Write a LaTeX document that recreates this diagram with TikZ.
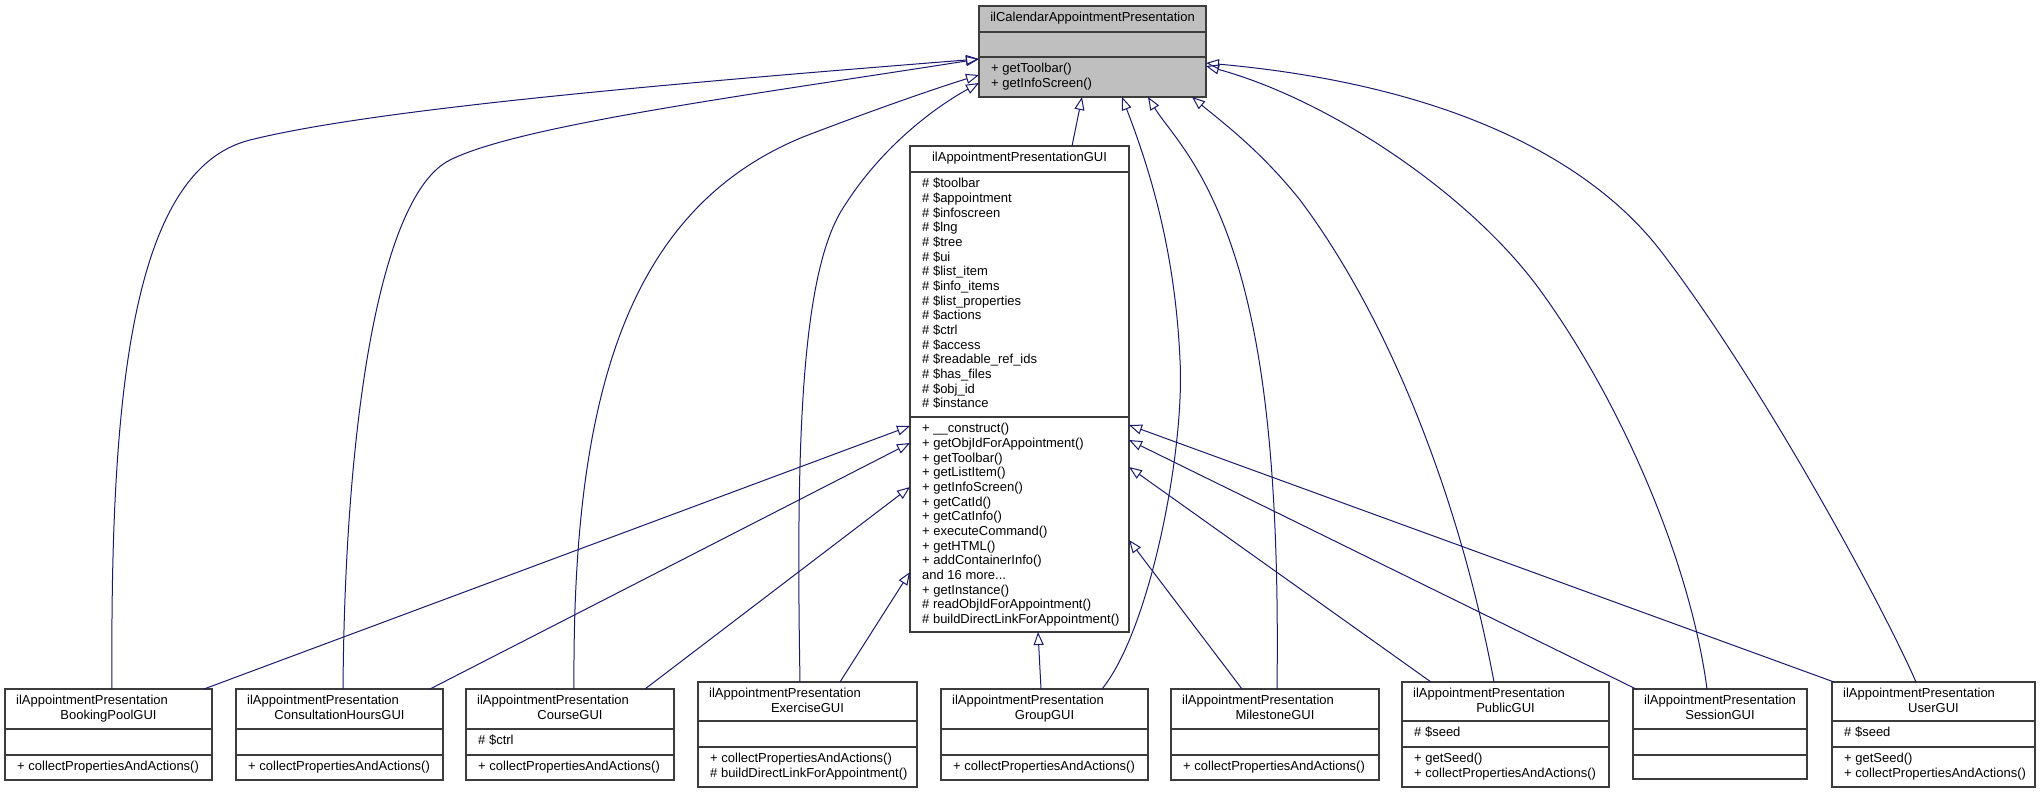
\documentclass[tikz,border=0pt]{standalone}
\usepackage{fontspec}
\setmainfont{Liberation Sans}
\usetikzlibrary{arrows.meta}
\definecolor{edgec}{RGB}{25,25,112}
\definecolor{boxc}{RGB}{60,60,60}
\definecolor{headc}{RGB}{191,191,191}
\tikzset{
  cls/.style={draw=boxc, line width=1.2pt, inner sep=0pt, outer sep=0pt},
  sepl/.style={draw=boxc, line width=1.2pt},
  txt/.style={font=\fontsize{13pt}{14.67pt}\selectfont, inner sep=0pt, text=black},
  inh/.style={draw=edgec, line width=1pt, -{Triangle[open, length=13pt, width=10pt]}}
}
\newcommand{\mydots}{...}
\newcommand{\mkbox}[8]{%
  \node[cls, fill=#8, minimum width={(#3-#2)*1pt}, minimum height={(#7-#4)*1pt}] (#1) at ({(#2+#3)/2},{(#4+#7)/2}) {};
  \draw[sepl] (#1.west |- 0,#5) -- (#1.east |- 0,#5);
  \draw[sepl] (#1.west |- 0,#6) -- (#1.east |- 0,#6);}
\newcommand{\txtl}[4]{\node[txt, anchor=base west] (#1) at ({#2},{#3}) {#4};}
\newcommand{\txtc}[4]{\node[txt, anchor=base] (#1) at ({#2},{#3}) {#4};}
\newcommand{\subbox}[9]{%
  \mkbox{#1}{#2}{#3}{#4}{#5}{#6}{#7}{white}
  \txtl{#1ta}{#2+11}{#4+15.8}{#8}
  \txtc{#1tb}{(#2+#3)/2}{#4+30.5}{#9}}
\begin{document}
\begin{tikzpicture}[x=1pt, y=-1pt]
\useasboundingbox (0,0) rectangle (2044,793);
\fill[white] (0,0) rectangle (2044,793);

% ---- base class
\mkbox{top}{979}{1206}{6}{32}{57}{97}{headc}
\txtc{topT}{1092.5}{21.8}{ilCalendarAppointmentPresentation}
\txtl{topMa}{991}{72.8}{+ getToolbar()}
\txtl{topMb}{991}{87.5}{+ getInfoScreen()}

% ---- middle class
\mkbox{mid}{910}{1129}{146}{172}{417}{632}{white}
\txtc{midT}{1019.5}{161.8}{ilAppointmentPresentationGUI}
\foreach \s [count=\i from 0] in {\# \$toolbar, \# \$appointment, \# \$infoscreen, \# \$lng, \# \$tree, \# \$ui, \# \$list\_item, \# \$info\_items, \# \$list\_properties, \# \$actions, \# \$ctrl, \# \$access, \# \$readable\_ref\_ids, \# \$has\_files, \# \$obj\_id, \# \$instance}
  \node[txt, anchor=base west] (ma\i) at (922, {187.8+\i*14.67}) {\s};
\foreach \s [count=\i from 0] in {+ \_\_construct(), + getObjIdForAppointment(), + getToolbar(), + getListItem(), + getInfoScreen(), + getCatId(), + getCatInfo(), + executeCommand(), + getHTML(), + addContainerInfo(), and 16 more\mydots, + getInstance(), \# readObjIdForAppointment(), \# buildDirectLinkForAppointment()}
  \node[txt, anchor=base west] (mm\i) at (922, {432.8+\i*14.67}) {\s};

% ---- derived classes
\subbox{bp}{5}{212}{689}{729}{755}{780}{ilAppointmentPresentation}{BookingPoolGUI}
\txtl{bpm}{17}{770.8}{+ collectPropertiesAndActions()}

\subbox{ch}{236}{443}{689}{729}{755}{780}{ilAppointmentPresentation}{ConsultationHoursGUI}
\txtl{chm}{248}{770.8}{+ collectPropertiesAndActions()}

\subbox{co}{466}{674}{689}{729}{755}{780}{ilAppointmentPresentation}{CourseGUI}
\txtl{coa}{478}{744.8}{\# \$ctrl}
\txtl{com}{478}{770.8}{+ collectPropertiesAndActions()}

\subbox{ex}{698}{917}{682}{721}{747}{787}{ilAppointmentPresentation}{ExerciseGUI}
\txtl{exma}{710}{762.8}{+ collectPropertiesAndActions()}
\txtl{exmb}{710}{777.5}{\# buildDirectLinkForAppointment()}

\subbox{gr}{941}{1148}{689}{729}{755}{780}{ilAppointmentPresentation}{GroupGUI}
\txtl{grm}{953}{770.8}{+ collectPropertiesAndActions()}

\subbox{mi}{1171}{1379}{689}{729}{755}{780}{ilAppointmentPresentation}{MilestoneGUI}
\txtl{mim}{1183}{770.8}{+ collectPropertiesAndActions()}

\subbox{pu}{1402}{1609}{682}{721}{747}{787}{ilAppointmentPresentation}{PublicGUI}
\txtl{pua}{1414}{736.8}{\# \$seed}
\txtl{puma}{1414}{762.8}{+ getSeed()}
\txtl{pumb}{1414}{777.5}{+ collectPropertiesAndActions()}

\subbox{se}{1633}{1807}{689}{729}{755}{779}{ilAppointmentPresentation}{SessionGUI}

\subbox{us}{1832}{2035}{682}{721}{747}{787}{ilAppointmentPresentation}{UserGUI}
\txtl{usa}{1844}{736.8}{\# \$seed}
\txtl{usma}{1844}{762.8}{+ getSeed()}
\txtl{usmb}{1844}{777.5}{+ collectPropertiesAndActions()}

% ---- inheritance to base class
\draw[inh] (112,0 |- bp.north) .. controls (110,400) and (130,170) .. (250,140) .. controls (370,110) and (650,85) .. (top.west |- 0,59);
\draw[inh] (343,0 |- ch.north) .. controls (345,420) and (380,195) .. (450,160) .. controls (520,125) and (750,95) .. (top.west |- 0,59);
\draw[inh] (574,0 |- co.north) .. controls (572,400) and (625,210) .. (803,137) .. controls (860,115) and (930,90) .. (top.west |- 0,75);
\draw[inh] (800,0 |- ex.north) .. controls (796,450) and (800,270) .. (845,205) .. controls (880,150) and (930,110) .. (top.west |- 0,83);
\draw[inh] (1072,0 |- mid.north) -- (1082,0 |- top.south);
\draw[inh] (1102,0 |- gr.north) .. controls (1150,630) and (1185,450) .. (1180,360) .. controls (1175,250) and (1150,170) .. (1122,0 |- top.south);
\draw[inh] (1277,0 |- mi.north) .. controls (1280,450) and (1260,300) .. (1213,200) .. controls (1190,150) and (1165,125) .. (1148,0 |- top.south);
\draw[inh] (1494,0 |- pu.north) .. controls (1460,500) and (1390,320) .. (1300,200) .. controls (1260,150) and (1222,122) .. (1192,0 |- top.south);
\draw[inh] (1707,0 |- se.north) .. controls (1690,560) and (1620,400) .. (1540,290) .. controls (1470,194) and (1330,100) .. (top.east |- 0,66);
\draw[inh] (1916,0 |- us.north) .. controls (1880,600) and (1760,380) .. (1660,250) .. controls (1590,160) and (1450,85) .. (top.east |- 0,63);

% ---- inheritance to middle class
\draw[inh] (204,0 |- bp.north) -- (mid.west |- 0,426);
\draw[inh] (430,0 |- ch.north) -- (mid.west |- 0,443);
\draw[inh] (645,0 |- co.north) -- (mid.west |- 0,487);
\draw[inh] (840,0 |- ex.north) -- (mid.west |- 0,572);
\draw[inh] (1041,0 |- gr.north) -- (1038,0 |- mid.south);
\draw[inh] (1242,0 |- mi.north) -- (mid.east |- 0,540);
\draw[inh] (1431,0 |- pu.north) -- (mid.east |- 0,467);
\draw[inh] (1636,0 |- se.north) -- (mid.east |- 0,440);
\draw[inh] (1834,0 |- us.north) -- (mid.east |- 0,425);
\end{tikzpicture}
\end{document}
